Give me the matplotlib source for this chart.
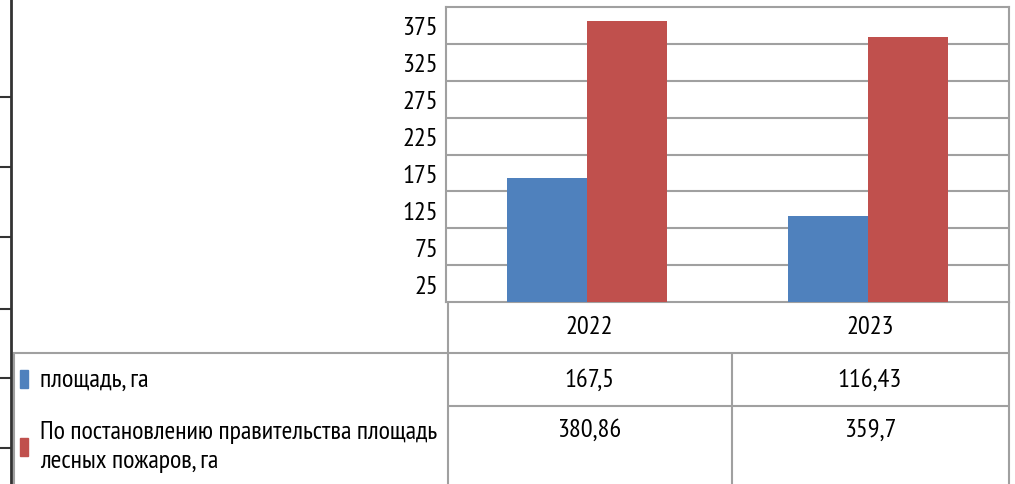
import matplotlib.pyplot as plt
from matplotlib import font_manager
import numpy as np

years = ["2022", "2023"]
area = [167.5, 116.43]
gov_area = [380.86, 359.7]
area_txt = ["167,5", "116,43"]
gov_txt = ["380,86", "359,7"]
series_names = ["площадь, га", "По постановлению правительства площадь\nлесных пожаров, га"]
tick_vals = [25, 75, 125, 175, 225, 275, 325, 375]
grid_vals = [50, 100, 150, 200, 250, 300, 350]

# narrow font, if there is one
names = {f.name for f in font_manager.fontManager.ttflist}
wanted = ["PT Sans Narrow", "Fira Sans Extra Condensed", "Roboto Condensed",
          "Liberation Sans Narrow", "Lato"]
family = next((n for n in wanted if n in names), "DejaVu Sans")
plt.rcParams["font.family"] = [family, "DejaVu Sans"]

BLUE = "#4F81BD"
RED = "#C0504D"
GRID = "#A0A0A0"
W, H = 1015, 485
FS = 19

fig = plt.figure(figsize=(W / 100, H / 100), dpi=100)

# chart area in pixel terms
x0, x1, ytop, ybot = 446, 1009, 8, 303
ax = fig.add_axes([x0 / W, 1 - ybot / H, (x1 - x0) / W, (ybot - ytop) / H])
x = np.arange(len(years))
bw = 0.285
ax.bar(x - bw / 2, area, bw, color=BLUE, zorder=3)
ax.bar(x + bw / 2, gov_area, bw, color=RED, zorder=3)
ax.set_xlim(-0.5, len(years) - 0.5)
ax.set_ylim(0, 400)
for g in grid_vals:
    ax.axhline(g, color=GRID, lw=1.5, zorder=1)
ax.set_yticks(tick_vals)
ax.set_yticklabels([str(v) for v in tick_vals], fontsize=FS)
ax.tick_params(axis="y", length=0, pad=6)
ax.set_xticks([])
for s in ax.spines.values():
    s.set_color(GRID)
    s.set_linewidth(1.5)

# overlay in pixel coords for the data table
ov = fig.add_axes([0, 0, 1, 1], facecolor="none")
ov.set_xlim(0, W)
ov.set_ylim(H, 0)
ov.axis("off")

def line(xs, ys, c=GRID, lw=1.5):
    ov.plot(xs, ys, color=c, lw=lw, solid_capstyle="butt")

line([448, 448], [303, 485])
line([1009, 1009], [303, 485])
line([13, 1009], [354, 354])
line([448, 1009], [407, 407])
line([732, 732], [354, 485])
line([14, 14], [354, 485])

# document border on the left
line([11, 11], [0, 485], c="#333333", lw=2)
for yy in [98, 168, 238, 310, 379, 449]:
    line([0, 11], [yy, yy], c="#333333", lw=1.5)

col_x = [589, 870]
for cx, yr in zip(col_x, years):
    ov.text(cx, 328, yr, ha="center", va="center", fontsize=FS)
for cx, t in zip(col_x, area_txt):
    ov.text(cx, 380, t, ha="center", va="center", fontsize=FS)
for cx, t in zip(col_x, gov_txt):
    ov.text(cx, 430, t, ha="center", va="center", fontsize=FS)

ov.add_patch(plt.Rectangle((20, 371), 8, 18, color=BLUE))
ov.add_patch(plt.Rectangle((20, 439), 8, 18, color=RED))
ov.text(40, 380, series_names[0], ha="left", va="center", fontsize=FS)
ov.text(40, 447, series_names[1], ha="left", va="center", fontsize=18.7,
        linespacing=1.3)

fig.savefig("out.png", dpi=100)
